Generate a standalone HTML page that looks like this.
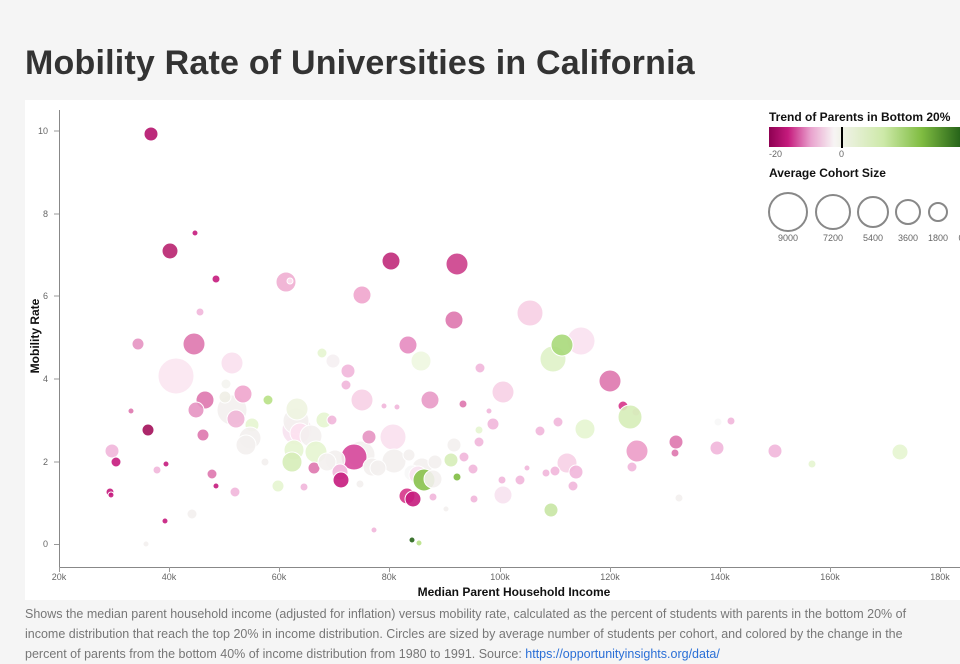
<!DOCTYPE html>
<html><head><meta charset="utf-8"><style>
body{margin:0;width:960px;height:650px;overflow:hidden;background:#f5f5f5;font-family:"Liberation Sans",sans-serif;position:relative}
h1{position:absolute;left:25px;top:44px;margin:0;font-size:34px;font-weight:bold;color:#333;letter-spacing:0.2px}
.panel{position:absolute;left:25px;top:100px;width:935px;height:500px;background:#fff}
.cap{position:absolute;left:25px;top:604px;width:920px;font-size:12.5px;line-height:20px;color:#777}
.cap a{color:#2a6fd6}
</style></head><body>
<h1>Mobility Rate of Universities in California</h1>
<div class="panel"></div>
<svg width="960" height="650" style="position:absolute;left:0;top:0">
<defs><linearGradient id="g" x1="0" x2="1">
<stop offset="0" stop-color="#8e0152"/><stop offset="0.1" stop-color="#c51b7d"/><stop offset="0.22" stop-color="#e9a3ce"/><stop offset="0.34" stop-color="#f7f4f4"/><stop offset="0.6" stop-color="#cde9a8"/><stop offset="0.8" stop-color="#7fbc41"/><stop offset="1" stop-color="#276419"/></linearGradient></defs>
<g stroke="#888" stroke-width="1" fill="none">
<line x1="59.5" y1="110" x2="59.5" y2="567"/><line x1="59" y1="567.5" x2="960" y2="567.5"/>
</g>
<g font-size="9" fill="#666" text-anchor="end">
<text x="48" y="547">0</text><text x="48" y="465">2</text><text x="48" y="382">4</text><text x="48" y="299">6</text><text x="48" y="217">8</text><text x="48" y="134">10</text>
</g>
<g stroke="#999"><line x1="54" y1="544.5" x2="59" y2="544.5"/><line x1="54" y1="462" x2="59" y2="462"/><line x1="54" y1="379" x2="59" y2="379"/><line x1="54" y1="296" x2="59" y2="296"/><line x1="54" y1="214" x2="59" y2="214"/><line x1="54" y1="131" x2="59" y2="131"/>
<line x1="59.5" y1="567" x2="59.5" y2="572"/><line x1="169.5" y1="567" x2="169.5" y2="572"/><line x1="279.5" y1="567" x2="279.5" y2="572"/><line x1="389.5" y1="567" x2="389.5" y2="572"/><line x1="500.5" y1="567" x2="500.5" y2="572"/><line x1="610.5" y1="567" x2="610.5" y2="572"/><line x1="720.5" y1="567" x2="720.5" y2="572"/><line x1="830.5" y1="567" x2="830.5" y2="572"/><line x1="940.5" y1="567" x2="940.5" y2="572"/></g>
<g font-size="9" fill="#666" text-anchor="middle">
<text x="59" y="580">20k</text><text x="169" y="580">40k</text><text x="279" y="580">60k</text><text x="389" y="580">80k</text><text x="500" y="580">100k</text><text x="610" y="580">120k</text><text x="720" y="580">140k</text><text x="830" y="580">160k</text><text x="940" y="580">180k</text>
</g>
<text x="514" y="596" font-size="12" font-weight="bold" text-anchor="middle" fill="#111">Median Parent Household Income</text>
<text transform="translate(39,336) rotate(-90)" font-size="12" font-weight="bold" text-anchor="middle" fill="#111">Mobility Rate</text>
<g stroke="#fff" stroke-width="1" fill-opacity="0.9">
<circle cx="176" cy="376" r="18" fill="#fbe5f1"/>
<circle cx="581" cy="341" r="14" fill="#fae1ef"/>
<circle cx="530" cy="313" r="13" fill="#f7cfe4"/>
<circle cx="553" cy="359" r="13" fill="#dff2c8"/>
<circle cx="232" cy="410" r="15" fill="#f3f0ee"/>
<circle cx="297" cy="430" r="15" fill="#f7e2ef"/>
<circle cx="361" cy="455" r="14" fill="#f3f0ee"/>
<circle cx="393" cy="437" r="13" fill="#f9e0ee"/>
<circle cx="296" cy="421" r="13" fill="#f3f0ee"/>
<circle cx="151" cy="134" r="7" fill="#b5136d"/>
<circle cx="195" cy="233" r="3" fill="#c51b7d"/>
<circle cx="170" cy="251" r="8" fill="#b8226f"/>
<circle cx="216" cy="279" r="4" fill="#c51b7d"/>
<circle cx="391" cy="261" r="9" fill="#c02a7a"/>
<circle cx="457" cy="264" r="11" fill="#cc3f8b"/>
<circle cx="286" cy="282" r="10" fill="#efaed2"/>
<circle cx="290" cy="281" r="3" fill="#fde0ef"/>
<circle cx="362" cy="295" r="9" fill="#efa5cd"/>
<circle cx="200" cy="312" r="4" fill="#f1b6da"/>
<circle cx="454" cy="320" r="9" fill="#de77ae"/>
<circle cx="138" cy="344" r="6" fill="#e693c2"/>
<circle cx="194" cy="344" r="11" fill="#de77ae"/>
<circle cx="562" cy="345" r="11" fill="#a8d97a"/>
<circle cx="408" cy="345" r="9" fill="#e68bc0"/>
<circle cx="322" cy="353" r="5" fill="#e6f5d0"/>
<circle cx="348" cy="371" r="7" fill="#f1b6da"/>
<circle cx="421" cy="361" r="10" fill="#eef7e0"/>
<circle cx="232" cy="363" r="11" fill="#f9e0ee"/>
<circle cx="333" cy="361" r="7" fill="#f5f0f2"/>
<circle cx="480" cy="368" r="5" fill="#f1b6da"/>
<circle cx="610" cy="381" r="11" fill="#de77ae"/>
<circle cx="346" cy="385" r="5" fill="#f1b6da"/>
<circle cx="226" cy="384" r="5" fill="#f4f4f0"/>
<circle cx="225" cy="397" r="6" fill="#f0eee6"/>
<circle cx="243" cy="394" r="9" fill="#efa5cd"/>
<circle cx="205" cy="400" r="9" fill="#de77ae"/>
<circle cx="268" cy="400" r="5" fill="#b8e186"/>
<circle cx="362" cy="400" r="11" fill="#f7d0e5"/>
<circle cx="430" cy="400" r="9" fill="#e89ac6"/>
<circle cx="503" cy="392" r="11" fill="#f7d0e5"/>
<circle cx="463" cy="404" r="4" fill="#de77ae"/>
<circle cx="297" cy="409" r="11" fill="#eef4e0"/>
<circle cx="196" cy="410" r="8" fill="#e693c2"/>
<circle cx="384" cy="406" r="3" fill="#f1b6da"/>
<circle cx="397" cy="407" r="3" fill="#f1b6da"/>
<circle cx="131" cy="411" r="3" fill="#de77ae"/>
<circle cx="252" cy="425" r="7" fill="#e6f5d0"/>
<circle cx="236" cy="419" r="9" fill="#f0b5d6"/>
<circle cx="324" cy="420" r="8" fill="#e6f5d0"/>
<circle cx="489" cy="411" r="3" fill="#f1b6da"/>
<circle cx="623" cy="406" r="5" fill="#d6358a"/>
<circle cx="636" cy="412" r="4" fill="#f1b6da"/>
<circle cx="630" cy="417" r="12" fill="#d6edb8"/>
<circle cx="493" cy="424" r="6" fill="#f1b6da"/>
<circle cx="540" cy="431" r="5" fill="#f1b6da"/>
<circle cx="558" cy="422" r="5" fill="#f1b6da"/>
<circle cx="479" cy="430" r="4" fill="#e6f5d0"/>
<circle cx="585" cy="429" r="10" fill="#e6f5d0"/>
<circle cx="718" cy="422" r="4" fill="#f7f7f7"/>
<circle cx="731" cy="421" r="4" fill="#f1b6da"/>
<circle cx="148" cy="430" r="6" fill="#a30f5a"/>
<circle cx="203" cy="435" r="6" fill="#de77ae"/>
<circle cx="250" cy="438" r="11" fill="#f3f0ee"/>
<circle cx="300" cy="433" r="10" fill="#fde0ef"/>
<circle cx="311" cy="436" r="11" fill="#f3f0ee"/>
<circle cx="332" cy="420" r="5" fill="#f1b6da"/>
<circle cx="369" cy="437" r="7" fill="#e693c2"/>
<circle cx="454" cy="445" r="7" fill="#f3f0ee"/>
<circle cx="112" cy="451" r="7" fill="#f1b6da"/>
<circle cx="246" cy="445" r="10" fill="#f3f0ee"/>
<circle cx="294" cy="450" r="10" fill="#e6f5d0"/>
<circle cx="316" cy="452" r="11" fill="#e6f5d0"/>
<circle cx="354" cy="457" r="13" fill="#d6469a"/>
<circle cx="335" cy="460" r="10" fill="#f3f0ee"/>
<circle cx="372" cy="467" r="9" fill="#f3f0ee"/>
<circle cx="394" cy="461" r="12" fill="#f3f0ee"/>
<circle cx="409" cy="455" r="6" fill="#f3f0ee"/>
<circle cx="422" cy="468" r="10" fill="#f3f0ee"/>
<circle cx="451" cy="460" r="7" fill="#d6edb8"/>
<circle cx="464" cy="457" r="5" fill="#f1b6da"/>
<circle cx="435" cy="462" r="7" fill="#f3f0ee"/>
<circle cx="479" cy="442" r="5" fill="#f1b6da"/>
<circle cx="676" cy="442" r="7" fill="#de77ae"/>
<circle cx="675" cy="453" r="4" fill="#de77ae"/>
<circle cx="717" cy="448" r="7" fill="#f1b6da"/>
<circle cx="775" cy="451" r="7" fill="#f1b6da"/>
<circle cx="900" cy="452" r="8" fill="#e6f5d0"/>
<circle cx="637" cy="451" r="11" fill="#ec9cc8"/>
<circle cx="567" cy="463" r="10" fill="#f7d0e5"/>
<circle cx="555" cy="471" r="5" fill="#f1b6da"/>
<circle cx="576" cy="472" r="7" fill="#f1b6da"/>
<circle cx="632" cy="467" r="5" fill="#f1b6da"/>
<circle cx="116" cy="462" r="5" fill="#c51b7d"/>
<circle cx="166" cy="464" r="3" fill="#c51b7d"/>
<circle cx="157" cy="470" r="4" fill="#f1b6da"/>
<circle cx="212" cy="474" r="5" fill="#de77ae"/>
<circle cx="265" cy="462" r="4" fill="#f3f0ee"/>
<circle cx="292" cy="462" r="10" fill="#d6edb8"/>
<circle cx="314" cy="468" r="6" fill="#de77ae"/>
<circle cx="327" cy="462" r="9" fill="#f3f0ee"/>
<circle cx="340" cy="472" r="8" fill="#f1b6da"/>
<circle cx="378" cy="468" r="8" fill="#f3f0ee"/>
<circle cx="412" cy="473" r="8" fill="#f7f7f7"/>
<circle cx="418" cy="475" r="9" fill="#f7e2ef"/>
<circle cx="473" cy="469" r="5" fill="#f1b6da"/>
<circle cx="457" cy="477" r="4" fill="#7fbc41"/>
<circle cx="520" cy="480" r="5" fill="#f1b6da"/>
<circle cx="527" cy="468" r="3" fill="#f1b6da"/>
<circle cx="546" cy="473" r="4" fill="#f1b6da"/>
<circle cx="812" cy="464" r="4" fill="#e6f5d0"/>
<circle cx="341" cy="480" r="8" fill="#c51b7d"/>
<circle cx="424" cy="480" r="11" fill="#88c24c"/>
<circle cx="433" cy="479" r="9" fill="#f3f0ee"/>
<circle cx="503" cy="495" r="9" fill="#f7e2ef"/>
<circle cx="407" cy="496" r="8" fill="#d6358a"/>
<circle cx="413" cy="499" r="8" fill="#c51b7d"/>
<circle cx="433" cy="497" r="4" fill="#f1b6da"/>
<circle cx="474" cy="499" r="4" fill="#f1b6da"/>
<circle cx="502" cy="480" r="4" fill="#f1b6da"/>
<circle cx="110" cy="492" r="4" fill="#c51b7d"/>
<circle cx="111" cy="495" r="3" fill="#c51b7d"/>
<circle cx="216" cy="486" r="3" fill="#c51b7d"/>
<circle cx="235" cy="492" r="5" fill="#f1b6da"/>
<circle cx="278" cy="486" r="6" fill="#e6f5d0"/>
<circle cx="304" cy="487" r="4" fill="#f1b6da"/>
<circle cx="360" cy="484" r="4" fill="#f3f0ee"/>
<circle cx="573" cy="486" r="5" fill="#f1b6da"/>
<circle cx="679" cy="498" r="4" fill="#f3f0ee"/>
<circle cx="551" cy="510" r="7" fill="#c8e6a4"/>
<circle cx="192" cy="514" r="5" fill="#f3f0ee"/>
<circle cx="165" cy="521" r="3" fill="#c51b7d"/>
<circle cx="374" cy="530" r="3" fill="#f1b6da"/>
<circle cx="146" cy="544" r="3" fill="#f3f0ee"/>
<circle cx="412" cy="540" r="3" fill="#276419"/>
<circle cx="419" cy="543" r="3" fill="#b8e186"/>
<circle cx="446" cy="509" r="3" fill="#f3f0ee"/>
</g>
<text x="769" y="121" font-size="12" font-weight="bold" fill="#111">Trend of Parents in Bottom 20%</text>
<rect x="769" y="127" width="191" height="20" fill="url(#g)"/>
<line x1="842" y1="127" x2="842" y2="148" stroke="#000" stroke-width="2"/>
<text x="769" y="157" font-size="9" fill="#666">-20</text><text x="839" y="157" font-size="9" fill="#666">0</text>
<text x="769" y="177" font-size="12" font-weight="bold" fill="#111">Average Cohort Size</text>
<g fill="none" stroke="#888" stroke-width="2">
<circle cx="788" cy="212" r="19"/><circle cx="833" cy="212" r="17"/><circle cx="873" cy="212" r="15"/><circle cx="908" cy="212" r="12"/><circle cx="938" cy="212" r="9"/>
</g>
<g font-size="9" fill="#666" text-anchor="middle"><text x="788" y="241">9000</text><text x="833" y="241">7200</text><text x="873" y="241">5400</text><text x="908" y="241">3600</text><text x="938" y="241">1800</text><text x="961" y="241">0</text></g>
</svg>
<div class="cap">Shows the median parent household income (adjusted for inflation) versus mobility rate, calculated as the percent of students with parents in the bottom 20% of income distribution that reach the top 20% in income distribution. Circles are sized by average number of students per cohort, and colored by the change in the percent of parents from the bottom 40% of income distribution from 1980 to 1991. Source: <a>https://opportunityinsights.org/data/</a></div>
</body></html>
